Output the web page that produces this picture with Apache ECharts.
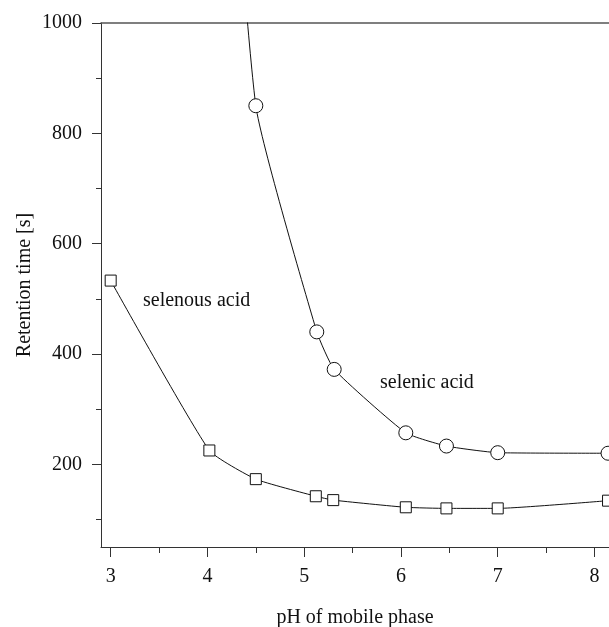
<!DOCTYPE html>
<html>
<head>
<meta charset="utf-8">
<script src="https://cdn.jsdelivr.net/npm/echarts@6/dist/echarts.min.js"></script>
<style>
html, body { margin: 0; padding: 0; background: #fff; }
#chart { width: 609px; height: 627px; }
</style>
</head>
<body>
<div id="chart"></div>
<script>
// pH values and retention times
var selenousPH = [3.0, 4.02, 4.5, 5.12, 5.3, 6.05, 6.47, 7.0, 8.14];
var selenousTime = [533, 225, 173, 142, 135, 122, 120, 120, 134];
// first selenic point lies above the plotted range (line enters from the top)
var selenicPH = [4.0, 4.5, 5.13, 5.31, 6.05, 6.47, 7.0, 8.14];
var selenicTime = [1950, 850, 440, 372, 257, 233, 221, 220];

var xMajor = [3, 4, 5, 6, 7, 8];
var xMinor = [3.5, 4.5, 5.5, 6.5, 7.5];
var yMajor = [200, 400, 600, 800, 1000];
var yMinor = [100, 300, 500, 700, 900];

function pairs(xs, ys) {
    var out = [];
    for (var i = 0; i < xs.length; i++) out.push([xs[i], ys[i]]);
    return out;
}

var font = '"Liberation Serif", "DejaVu Serif", serif';
var lineColor = '#333';

var option = {
    animation: false,
    backgroundColor: '#fff',
    grid: { left: 101, right: 0, top: 23, bottom: 80, outerBoundsMode: 'none', containLabel: false },
    xAxis: [{
        type: 'value',
        min: 2.9,
        max: 8.15,
        name: 'pH of mobile phase',
        nameLocation: 'middle',
        nameGap: 61,
        nameMoveOverlap: false,
        nameTextStyle: { fontFamily: font, fontSize: 20, color: '#111' },
        axisLine: { show: true, onZero: false, lineStyle: { color: lineColor, width: 1 } },
        axisTick: { show: true, length: 10, customValues: xMajor, lineStyle: { color: lineColor } },
        axisLabel: { customValues: xMajor, margin: 20, fontFamily: font, fontSize: 20, color: '#111' },
        splitLine: { show: false }
    }, {
        type: 'value',
        min: 2.9,
        max: 8.15,
        position: 'bottom',
        axisLine: { show: false },
        axisTick: { show: true, length: 6, customValues: xMinor, lineStyle: { color: lineColor } },
        axisLabel: { show: false },
        splitLine: { show: false }
    }, {
        type: 'value',
        min: 2.9,
        max: 8.15,
        position: 'top',
        axisLine: { show: true, lineStyle: { color: '#555', width: 1.5 } },
        axisTick: { show: false },
        axisLabel: { show: false },
        splitLine: { show: false }
    }],
    yAxis: [{
        type: 'value',
        min: 50,
        max: 1000,
        name: 'Retention time [s]',
        nameLocation: 'middle',
        nameGap: 66,
        nameMoveOverlap: false,
        nameTextStyle: { fontFamily: font, fontSize: 20, color: '#111' },
        axisLine: { show: true, onZero: false, lineStyle: { color: lineColor, width: 1 } },
        axisTick: { show: true, length: 9, customValues: yMajor, lineStyle: { color: lineColor } },
        axisLabel: {
            customValues: yMajor, margin: 19, fontFamily: font, fontSize: 20, color: '#111',
            formatter: function (v) { return String(v); }
        },
        splitLine: { show: false }
    }, {
        type: 'value',
        min: 50,
        max: 1000,
        position: 'left',
        axisLine: { show: false },
        axisTick: { show: true, length: 5, customValues: yMinor, lineStyle: { color: lineColor } },
        axisLabel: { show: false },
        splitLine: { show: false }
    }],
    series: [{
        name: 'selenous acid',
        type: 'line',
        data: pairs(selenousPH, selenousTime),
        smooth: 0.15,
        clip: true,
        symbol: 'rect',
        symbolSize: 11,
        lineStyle: { color: '#111', width: 1 },
        itemStyle: { color: '#fff', borderColor: '#111', borderWidth: 1 }
    }, {
        name: 'selenic acid',
        type: 'line',
        data: pairs(selenicPH, selenicTime),
        smooth: 0.15,
        clip: true,
        symbol: 'circle',
        symbolSize: 14,
        lineStyle: { color: '#111', width: 1 },
        itemStyle: { color: '#fff', borderColor: '#111', borderWidth: 1 }
    }],
    graphic: [{
        type: 'text',
        left: 143,
        top: 291,
        style: { text: 'selenous acid', fontFamily: font, fontSize: 20, fill: '#111' }
    }, {
        type: 'text',
        left: 380,
        top: 373,
        style: { text: 'selenic acid', fontFamily: font, fontSize: 20, fill: '#111' }
    }]
};

var chart = echarts.init(document.getElementById('chart'));
chart.setOption(option);
</script>
</body>
</html>
